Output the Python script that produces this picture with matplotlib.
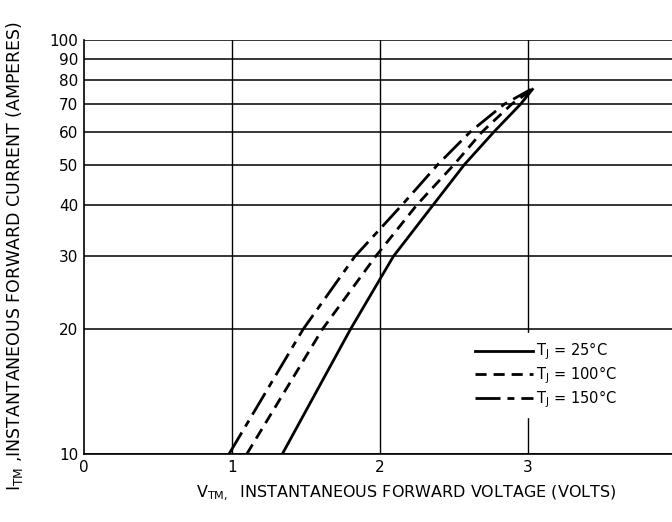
import numpy as np
import matplotlib
matplotlib.use("Agg")
import matplotlib.pyplot as plt

# forward current (A) and voltage read at each curve
current = [10, 20, 30, 40, 50, 60, 70, 76]
v_25 = [1.34, 1.80, 2.09, 2.36, 2.57, 2.77, 2.95, 3.03]
v_100 = [1.10, 1.61, 1.97, 2.25, 2.50, 2.69, 2.89, 3.03]
v_150 = [0.98, 1.48, 1.83, 2.15, 2.39, 2.61, 2.84, 3.02]

y_ticks = [10, 20, 30, 40, 50, 60, 70, 80, 90, 100]
x_ticks = [0, 1, 2, 3, 4]

plt.rcParams['font.family'] = 'DejaVu Sans'
fig = plt.figure(figsize=(6.72, 5.22), dpi=100)
ax = fig.add_axes([84 / 672, 68 / 522, 592 / 672, 414 / 522])

ax.set_yscale('log')
ax.set_xlim(0, 4)
ax.set_ylim(10, 100)

for y in y_ticks:
    ax.axhline(y, color='black', lw=1.1, zorder=1)
for x in x_ticks[1:]:
    ax.axvline(x, color='black', lw=1.0, zorder=1)

ax.plot(v_25, current, color='black', lw=2.0, ls='-', label=r'T$_{\rm J}$ = 25°C', zorder=3)
ax.plot(v_100, current, color='black', lw=2.0, ls=(0, (4, 2.5)), label=r'T$_{\rm J}$ = 100°C', zorder=3)
ax.plot(v_150, current, color='black', lw=2.0, ls=(0, (9, 2.5, 2.5, 2.5)), label=r'T$_{\rm J}$ = 150°C', zorder=3)

ax.set_yticks(y_ticks)
ax.set_yticklabels([str(v) for v in y_ticks], fontsize=11)
ax.yaxis.set_minor_locator(matplotlib.ticker.NullLocator())
ax.set_xticks(x_ticks)
ax.set_xticklabels([str(v) for v in x_ticks], fontsize=11)
ax.tick_params(length=0, pad=4)

for s in ['top', 'right']:
    ax.spines[s].set_visible(False)
ax.spines['left'].set_linewidth(1.2)
ax.spines['bottom'].set_linewidth(1.2)

leg = ax.legend(loc='center', bbox_to_anchor=(0.78, 0.19), frameon=True,
                fontsize=10.5, handlelength=4.0, handletextpad=0.15,
                labelspacing=0.15, borderpad=0.5, fancybox=False)
leg.get_frame().set_edgecolor('white')
leg.get_frame().set_facecolor('white')
leg.get_frame().set_alpha(1)
leg.set_zorder(5)

fig.text(0.022, 0.51, r'I$_{\rm TM}$ ,INSTANTANEOUS FORWARD CURRENT (AMPERES)',
         rotation=90, ha='center', va='center', fontsize=12.5)
fig.text(0.605, 0.055, r'V$_{\rm TM,}$  INSTANTANEOUS FORWARD VOLTAGE (VOLTS)',
         ha='center', va='center', fontsize=11.5)

fig.savefig('out.png', dpi=100)
